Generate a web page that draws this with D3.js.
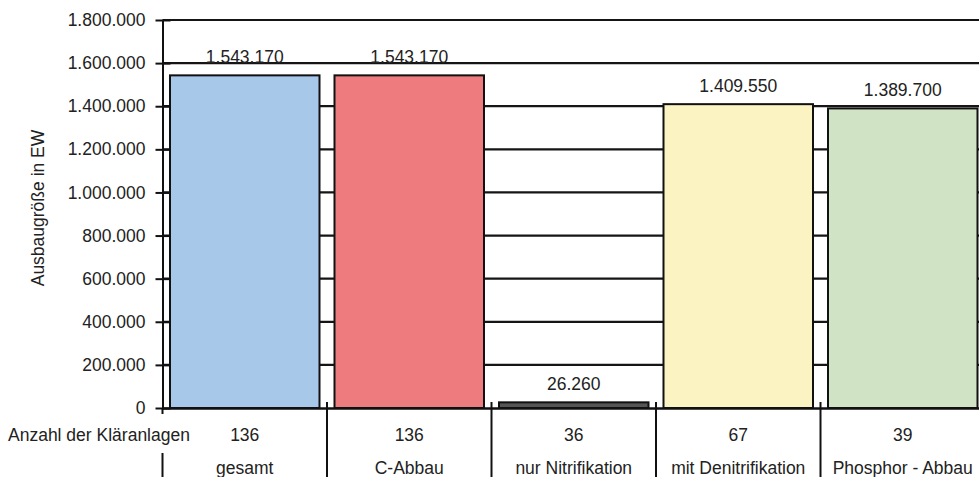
<!DOCTYPE html>
<html>
<head>
<meta charset="utf-8">
<script src="https://cdn.jsdelivr.net/npm/d3@7"></script>
<style>
  html, body { margin: 0; padding: 0; background: #fff; }
  svg { display: block; }
  text { font-family: "Liberation Sans", Arial, sans-serif; fill: #222; }
</style>
</head>
<body>
<svg id="chart" width="979" height="477"></svg>
<script>
// Ausbaugröße der Kläranlagen nach Reinigungsstufe
const categories = ["gesamt", "C-Abbau", "nur Nitrifikation", "mit Denitrifikation", "Phosphor - Abbau"];
const capacities = [1543170, 1543170, 26260, 1409550, 1389700];
const plantCounts = [136, 136, 36, 67, 39];
const barColors = ["#a8c8ea", "#ee7c7f", "#555555", "#fbf4c2", "#d0e4c5"];
const yTicks = [0, 200000, 400000, 600000, 800000, 1000000, 1200000, 1400000, 1600000, 1800000];

const svg = d3.select("#chart");
const W = 979, H = 477;
const plotLeft = 162.5, plotBottom = 408, plotTop = 20;
const step = 164.5;

const fmt = v => d3.format(",")(v).replace(/,/g, ".");

const x = d3.scaleBand()
  .domain(categories)
  .range([plotLeft, plotLeft + step * categories.length])
  .paddingInner(15 / step)
  .paddingOuter(7.5 / step);

const y = d3.scaleLinear()
  .domain([0, 1800000])
  .range([plotBottom, plotTop]);

// horizontal grid lines behind the bars
svg.append("g")
  .selectAll("line")
  .data(yTicks.filter(d => d > 0))
  .join("line")
  .attr("x1", plotLeft)
  .attr("x2", W)
  .attr("y1", d => y(d))
  .attr("y2", d => y(d))
  .attr("stroke", "#151515")
  .attr("stroke-width", 2.2);

// bars
svg.append("g")
  .selectAll("rect")
  .data(categories)
  .join("rect")
  .attr("x", d => x(d))
  .attr("width", x.bandwidth())
  .attr("y", (d, i) => y(capacities[i]))
  .attr("height", (d, i) => plotBottom - y(capacities[i]))
  .attr("fill", (d, i) => barColors[i])
  .attr("stroke", "#111")
  .attr("stroke-width", 2);

// value labels above bars
svg.append("g")
  .selectAll("text")
  .data(categories)
  .join("text")
  .attr("x", d => x(d) + x.bandwidth() / 2)
  .attr("y", (d, i) => y(capacities[i]) - 12)
  .attr("text-anchor", "middle")
  .attr("font-size", 17.5)
  .text((d, i) => fmt(capacities[i]));

// y axis
const yAxis = d3.axisLeft(y)
  .tickValues(yTicks)
  .tickFormat(fmt)
  .tickSizeInner(7)
  .tickSizeOuter(0)
  .tickPadding(10);

const gy = svg.append("g")
  .attr("transform", `translate(${plotLeft},0)`)
  .call(yAxis);
gy.select(".domain").attr("stroke", "#111").attr("stroke-width", 2);
gy.selectAll(".tick line")
  .attr("x1", -7).attr("x2", 8)
  .attr("stroke", "#111").attr("stroke-width", 2);
gy.selectAll(".tick text")
  .attr("font-size", 17.5)
  .attr("font-family", "Liberation Sans, Arial, sans-serif")
  .attr("fill", "#222");

// zero baseline
const xAxis = d3.axisBottom(x).tickSize(0).tickFormat("");
const gx = svg.append("g")
  .attr("transform", `translate(0,${plotBottom})`)
  .call(xAxis);
gx.select(".domain").attr("stroke", "#111").attr("stroke-width", 2.5);

// table of plant counts and category names
const bounds = categories.map(d => x(d) - x.step() * x.paddingInner() / 2);

svg.append("g")
  .selectAll("line")
  .data(bounds.slice(1))
  .join("line")
  .attr("x1", d => d).attr("x2", d => d)
  .attr("y1", plotBottom - 6).attr("y2", H)
  .attr("stroke", "#111").attr("stroke-width", 2);

// left boundary, broken around the row caption
svg.append("line")
  .attr("x1", plotLeft).attr("x2", plotLeft)
  .attr("y1", plotBottom).attr("y2", plotBottom + 6)
  .attr("stroke", "#111").attr("stroke-width", 2);
svg.append("line")
  .attr("x1", plotLeft).attr("x2", plotLeft)
  .attr("y1", 453).attr("y2", H)
  .attr("stroke", "#111").attr("stroke-width", 2);

svg.append("text")
  .attr("x", 8)
  .attr("y", 441)
  .attr("font-size", 17.5)
  .text("Anzahl der Kläranlagen");

svg.append("g")
  .selectAll("text")
  .data(categories)
  .join("text")
  .attr("x", d => x(d) + x.bandwidth() / 2)
  .attr("y", 441)
  .attr("text-anchor", "middle")
  .attr("font-size", 17.5)
  .text((d, i) => plantCounts[i]);

svg.append("g")
  .selectAll("text")
  .data(categories)
  .join("text")
  .attr("x", d => x(d) + x.bandwidth() / 2)
  .attr("y", 474)
  .attr("text-anchor", "middle")
  .attr("font-size", 17.5)
  .text(d => d);

// y axis title
svg.append("text")
  .attr("transform", `translate(44,208) rotate(-90)`)
  .attr("text-anchor", "middle")
  .attr("font-size", 17.5)
  .text("Ausbaugröße in EW");
</script>
</body>
</html>
